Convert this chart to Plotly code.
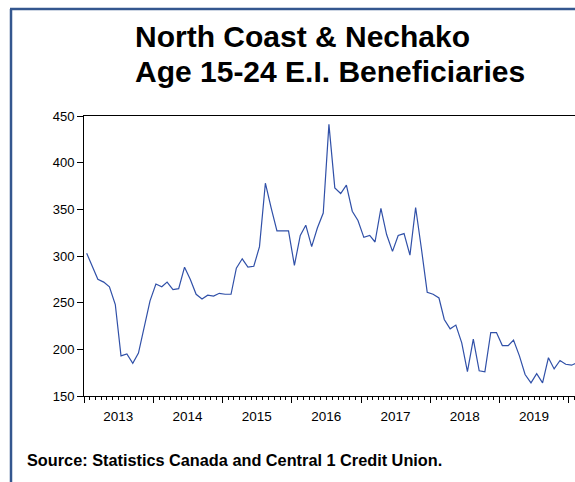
import pandas as pd
import plotly.graph_objects as go

# Monthly E.I. beneficiaries, age 15-24
v2013 = [303, 289, 275, 272, 267, 248, 193, 195, 185, 196, 224, 252]
v2014 = [270, 267, 272, 264, 265, 288, 275, 259, 254, 258, 257, 260]
v2015 = [259, 259, 287, 297, 288, 289, 310, 378, 351, 327, 327, 327]
v2016 = [290, 322, 333, 310, 330, 346, 441, 373, 367, 376, 348, 338]
v2017 = [320, 322, 315, 351, 323, 305, 322, 324, 301, 352, 307, 261]
v2018 = [259, 255, 232, 222, 226, 207, 176, 211, 177, 176, 218, 218]
v2019 = [204, 204, 210, 193, 173, 164, 174, 164, 191, 179, 188, 184]
v2020 = [183, 186]

years = ["2013", "2014", "2015", "2016", "2017", "2018", "2019"]
y_ticks = [150, 200, 250, 300, 350, 400, 450]

values = v2013 + v2014 + v2015 + v2016 + v2017 + v2018 + v2019 + v2020
dates = pd.date_range("2013-01-01", periods=len(values), freq="MS") + pd.Timedelta(days=14)

W, H = 575, 482
L, R, T, B = 84, 0, 116, 86
pw, ph = W - L - R, H - T - B


def px_x(p):
    return (p - L) / pw


def px_y(p):
    return (H - B - p) / ph


fig = go.Figure()
fig.add_trace(go.Scatter(x=dates, y=values, mode="lines",
                         line=dict(color="#3050A8", width=1.2),
                         hoverinfo="skip", showlegend=False))
# invisible trace for secondary x axis (major ticks at year boundaries)
fig.add_trace(go.Scatter(x=[dates[0]], y=[values[0]], xaxis="x2", mode="markers",
                         marker=dict(opacity=0), showlegend=False, hoverinfo="skip"))

xr = ["2013-01-01", "2020-02-02"]
fig.update_layout(
    width=W, height=H,
    margin=dict(l=L, r=R, t=T, b=B),
    paper_bgcolor="white", plot_bgcolor="white",
    font=dict(family="Arial, Liberation Sans, sans-serif", color="black"),
    xaxis=dict(
        type="date", range=xr,
        tickvals=[f"{y}-07-01" for y in years], ticktext=years,
        ticks="", showgrid=False, zeroline=False,
        showline=True, linecolor="black", linewidth=1, mirror=True,
        tickfont=dict(size=13.5, color="black"),
        ticklabelstandoff=8,
        minor=dict(ticks="outside", ticklen=3, tickwidth=1, tickcolor="black",
                   dtick="M1", tick0="2013-01-01", showgrid=False),
    ),
    xaxis2=dict(
        type="date", range=xr, overlaying="x", side="bottom", anchor="y",
        tickvals=[f"{y}-01-01" for y in range(2013, 2021)],
        showticklabels=False, ticks="outside", ticklen=6, tickwidth=1,
        tickcolor="black", showgrid=False, showline=False, zeroline=False,
    ),
    yaxis=dict(
        range=[150, 450], tickvals=y_ticks,
        ticks="outside", ticklen=6, tickwidth=1, tickcolor="black",
        showgrid=False, zeroline=False,
        showline=True, linecolor="black", linewidth=1, mirror=False,
        tickfont=dict(size=13, color="black"),
    ),
    shapes=[
        dict(type="line", xref="paper", yref="paper",
             x0=px_x(11), x1=px_x(11), y0=px_y(9), y1=px_y(490),
             line=dict(color="#34578F", width=2.5)),
        dict(type="line", xref="paper", yref="paper",
             x0=px_x(10), x1=px_x(590), y0=px_y(9), y1=px_y(9),
             line=dict(color="#34578F", width=2.5)),
    ],
    annotations=[
        dict(text="<b>North Coast & Nechako</b>", xref="paper", yref="paper",
             x=px_x(133), y=px_y(37), xanchor="left", yanchor="middle",
             showarrow=False, font=dict(size=30, color="black")),
        dict(text="<b>Age 15-24 E.I. Beneficiaries</b>", xref="paper", yref="paper",
             x=px_x(133), y=px_y(72), xanchor="left", yanchor="middle",
             showarrow=False, font=dict(size=30, color="black")),
        dict(text="<b>Source: Statistics Canada and Central 1 Credit Union.</b>",
             xref="paper", yref="paper",
             x=px_x(25), y=px_y(460), xanchor="left", yanchor="middle",
             showarrow=False, font=dict(size=16.3, color="black")),
    ],
)

fig.write_html("out.html",
               config={"displayModeBar": False, "staticPlot": True},
               post_script="document.body.style.margin='0';document.body.style.overflow='hidden';")
